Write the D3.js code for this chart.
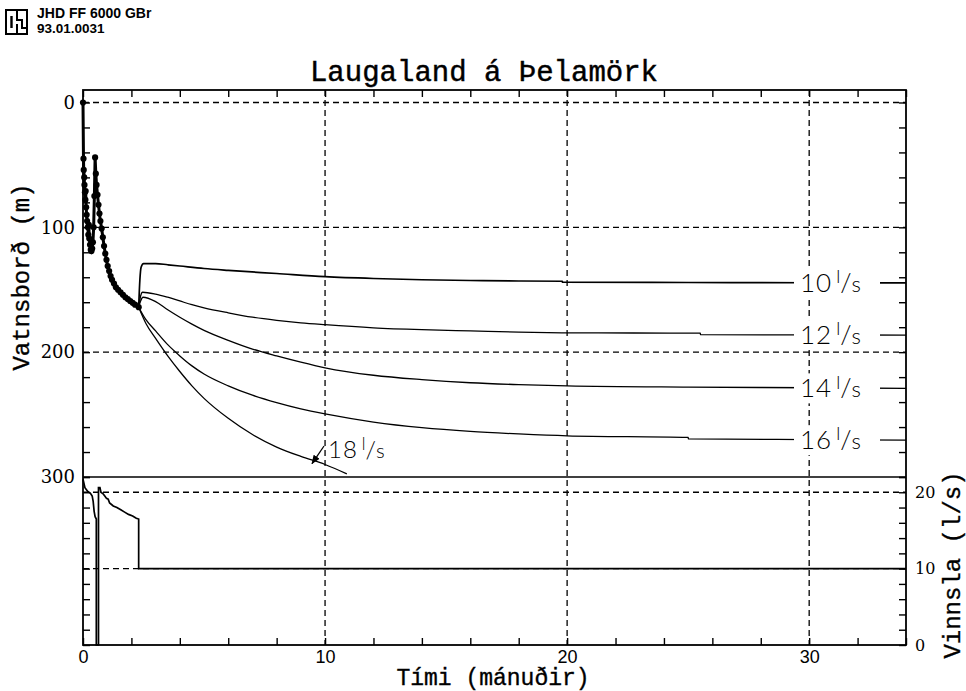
<!DOCTYPE html>
<html>
<head>
<meta charset="utf-8">
<script src="https://cdn.jsdelivr.net/npm/d3@7"></script>
<style>
  body { margin: 0; background: #fff; }
  svg { display: block; }
</style>
</head>
<body>
<svg id="chart" width="966" height="691"></svg>
<script>
// ---- Measured water level in the well, [months, m] ----
const observed = [
  [0, 0], [0.02, 45], [0.03, 54], [0.05, 60], [0.06, 66], [0.08, 72], [0.1, 78], [0.11, 71],
  [0.13, 84], [0.15, 90], [0.17, 95], [0.2, 100], [0.22, 106], [0.24, 98], [0.26, 109],
  [0.29, 114], [0.32, 118], [0.35, 119], [0.38, 117], [0.41, 112], [0.44, 100], [0.47, 75],
  [0.5, 44], [0.53, 57], [0.56, 66], [0.6, 74], [0.64, 82], [0.68, 89], [0.72, 95],
  [0.77, 101], [0.82, 108], [0.87, 115], [0.92, 121], [0.97, 126], [1.02, 131], [1.08, 135],
  [1.14, 139], [1.2, 142], [1.28, 145], [1.36, 148], [1.45, 150], [1.55, 152], [1.65, 154],
  [1.75, 156], [1.85, 157.5], [1.95, 159], [2.05, 160.5], [2.15, 162], [2.3, 164]
];

// ---- Simulated water level for constant pumping rates, [months, m] ----
const sim10 = [
  [2.3, 164], [2.35, 142], [2.4, 132], [2.5, 129], [3, 129], [3.5, 130], [4, 131], [5, 133],
  [6, 134.5], [8, 137], [10, 139.5], [12, 141], [14, 142], [16, 142.6], [18, 143],
  [19.8, 143.2], [19.81, 144], [25, 144.2], [30, 144.4], [34, 144.5]
];
const sim12 = [
  [2.3, 164], [2.38, 155], [2.46, 152], [3, 153.5], [3.5, 156], [4, 159], [4.5, 162],
  [5, 164.5], [6, 168.5], [7, 172], [8, 174.5], [9, 176.5], [10, 178], [12, 180.5],
  [14, 182], [16, 183], [18, 184], [20, 184.5], [25.5, 184.8], [25.51, 186], [30, 186.2],
  [34, 186.3]
];
const sim14 = [
  [2.3, 164], [2.38, 159], [2.48, 156], [3, 159.5], [3.5, 166], [4, 172], [4.5, 177.5],
  [5, 182.5], [6, 190.5], [7, 197.5], [8, 203], [9, 208], [10, 212.5], [12, 218.5], [14, 222],
  [16, 224.5], [18, 226], [20, 227], [25, 228], [30, 228.5], [34, 229]
];
const sim16 = [
  [2.3, 164], [2.6, 174], [3, 183], [3.5, 194], [4, 203], [4.5, 211], [5, 217.5], [6, 227],
  [7, 234.5], [8, 240.5], [9, 245.5], [10, 249.5], [12, 256], [14, 260.5], [16, 263.5],
  [18, 265.5], [20, 267], [25, 268.3], [25.01, 269.5], [30, 270], [34, 270.5]
];
const sim18 = [
  [2.3, 164], [2.6, 177], [3, 189], [3.5, 203], [4, 215.5], [4.5, 227], [5, 237], [6, 253],
  [7, 266], [8, 276], [9, 283.5], [10, 290], [10.9, 297.5]
];
const scenarioRates = ["10", "12", "14", "16"];
const lastScenarioRate = "18";

// ---- Pumping rate, [months, l/s] ----
const pumping = [
  [0, 21.7], [0.08, 20.6], [0.2, 20.1], [0.3, 19.9], [0.38, 19.5], [0.42, 18.8], [0.46, 17.5],
  [0.5, 16.8], [0.55, 16.5], [0.55, 0], [0.64, 0], [0.64, 20.6], [0.7, 20.6], [0.74, 20.0],
  [0.83, 19.8], [0.9, 19.5], [0.97, 19.2], [1.04, 19.1], [1.1, 18.6], [1.25, 18.2],
  [1.4, 18.0], [1.56, 17.7], [1.72, 17.4], [1.88, 17.1], [2.05, 16.9], [2.2, 16.6],
  [2.3, 16.5], [2.3, 10], [34, 10]
];

// ---- Tick and grid values ----
const timeLabels = [0, 10, 20, 30];
const levelLabels = [0, 100, 200, 300];
const rateLabels = [0, 10, 20];
const levelGrid = [0, 100, 200];
const rateGrid = [10, 20];

const svg = d3.select("#chart");

const x = d3.scaleLinear().domain([0, 34]).range([83, 906]);
const yLevel = d3.scaleLinear().domain([-10, 300]).range([90, 477]);
const yRate = d3.scaleLinear().domain([0, 22]).range([645, 477]);

const monoFont = "'Liberation Mono', 'DejaVu Sans Mono', monospace";
const serifFont = "'DejaVu Serif', serif";

// ---- Header ----
const logo = svg.append("g").attr("fill", "none").attr("stroke", "#000");
logo.append("rect").attr("x", 6).attr("y", 10).attr("width", 21).attr("height", 24).attr("stroke-width", 2);
logo.append("path").attr("d", "M11.5 16 V28").attr("stroke-width", 2.4);
logo.append("path").attr("d", "M17 10 V20 H22 V28 H27 M17 24 V34").attr("stroke-width", 2);
svg.append("text").attr("x", 37).attr("y", 18)
  .attr("font-family", "'Liberation Sans', Arial, sans-serif").attr("font-weight", "bold")
  .attr("font-size", 14).text("JHD FF 6000 GBr");
svg.append("text").attr("x", 37).attr("y", 33)
  .attr("font-family", "'Liberation Sans', Arial, sans-serif").attr("font-weight", "bold")
  .attr("font-size", 13.5).text("93.01.0031");

// ---- Title ----
svg.append("text").attr("x", 484).attr("y", 81).attr("text-anchor", "middle")
  .attr("font-family", monoFont).attr("font-size", 29)
  .attr("stroke", "#000").attr("stroke-width", 0.45)
  .text("Laugaland á Þelamörk");

// ---- Grid ----
const grid = svg.append("g").attr("stroke", "#000").attr("stroke-width", 1.3)
  .attr("stroke-dasharray", "6,4");
grid.selectAll(".gl").data(levelGrid).join("line")
  .attr("x1", x(0)).attr("x2", x(34))
  .attr("y1", d => yLevel(d)).attr("y2", d => yLevel(d));
grid.selectAll(".gr").data(rateGrid).join("line")
  .attr("x1", x(0)).attr("x2", x(34))
  .attr("y1", d => yRate(d)).attr("y2", d => yRate(d));
grid.selectAll(".gt").data(timeLabels.filter(d => d > 0)).join("line")
  .attr("x1", d => x(d)).attr("x2", d => x(d))
  .attr("y1", yLevel(-10)).attr("y2", yRate(0));

// ---- Axes ----
function styleAxis(g, fontFamily, fontSize) {
  g.select(".domain").remove();
  g.selectAll(".tick line").attr("stroke", "#000").attr("stroke-width", 1.4);
  g.selectAll(".tick text").attr("font-family", fontFamily).attr("font-size", fontSize).attr("fill", "#000");
}
const evenMonths = d3.range(0, 35, 2);
svg.append("g").attr("transform", `translate(0,${yLevel(-10)})`)
  .call(d3.axisTop(x).tickValues(evenMonths).tickSize(-7).tickFormat(""))
  .call(g => styleAxis(g, serifFont, 17));
svg.append("g").attr("transform", `translate(0,${yRate(0)})`)
  .call(d3.axisBottom(x).tickValues(evenMonths).tickSize(-7).tickPadding(5)
    .tickFormat(d => timeLabels.includes(d) ? d : ""))
  .call(g => styleAxis(g, "'Liberation Sans', Arial, sans-serif", 18));
const levelTicks = d3.range(0, 301, 20);
const rateTicks = d3.range(0, 23, 2);
svg.append("g").attr("transform", `translate(${x(0)},0)`)
  .call(d3.axisLeft(yLevel).tickValues(levelTicks).tickSize(-7).tickPadding(8)
    .tickFormat(d => levelLabels.includes(d) ? d : ""))
  .call(g => styleAxis(g, serifFont, 18));
svg.append("g").attr("transform", `translate(${x(0)},0)`)
  .call(d3.axisLeft(yRate).tickValues(rateTicks).tickSize(-7).tickFormat(""))
  .call(g => styleAxis(g, serifFont, 18));
svg.append("g").attr("transform", `translate(${x(34)},0)`)
  .call(d3.axisRight(yLevel).tickValues(levelTicks).tickSize(-7).tickFormat(""))
  .call(g => styleAxis(g, serifFont, 16));
svg.append("g").attr("transform", `translate(${x(34)},0)`)
  .call(d3.axisRight(yRate).tickValues(rateTicks).tickSize(-7).tickPadding(9)
    .tickFormat(d => rateLabels.includes(d) ? d : ""))
  .call(g => styleAxis(g, serifFont, 16));

// ---- Frame and panel divider ----
svg.append("rect").attr("x", x(0)).attr("y", yLevel(-10))
  .attr("width", x(34) - x(0)).attr("height", yRate(0) - yLevel(-10))
  .attr("fill", "none").attr("stroke", "#000").attr("stroke-width", 1.8);
svg.append("line").attr("x1", x(0)).attr("x2", x(34))
  .attr("y1", yLevel(300)).attr("y2", yLevel(300))
  .attr("stroke", "#000").attr("stroke-width", 1.6);

// ---- Simulated curves ----
const levelLine = d3.line().x(d => x(d[0])).y(d => yLevel(d[1])).curve(d3.curveMonotoneX);
const sims = [sim10, sim12, sim14, sim16, sim18];
svg.append("g").attr("fill", "none").attr("stroke", "#000")
  .selectAll("path").data(sims).join("path")
  .attr("stroke-width", (d, i) => i === 0 ? 1.7 : 1.3)
  .attr("d", levelLine);

// ---- Measured level ----
const obsLine = d3.line().x(d => x(d[0])).y(d => yLevel(d[1]));
svg.append("path").datum(observed).attr("fill", "none").attr("stroke", "#000")
  .attr("stroke-width", 3).attr("d", obsLine);
svg.append("g").selectAll("circle").data(observed).join("circle")
  .attr("cx", d => x(d[0])).attr("cy", d => yLevel(d[1])).attr("r", 3.1).attr("fill", "#000");

// ---- Pumping rate ----
const rateLine = d3.line().x(d => x(d[0])).y(d => yRate(d[1]));
svg.append("path").datum(pumping).attr("fill", "none").attr("stroke", "#000")
  .attr("stroke-width", 1.7).attr("d", rateLine);

// ---- Rate labels at the curve ends ----
const labelFont = "Lato, 'Open Sans', sans-serif";
function rateLabel(g, rate, fs) {
  const t = g.append("text").attr("font-family", labelFont).attr("font-weight", 300)
    .attr("font-size", fs).attr("fill", "#000");
  t.append("tspan").attr("letter-spacing", 1).text(rate);
  t.append("tspan").attr("font-size", fs * 0.7).attr("dx", 4).attr("dy", -fs * 0.34).text("l");
  t.append("tspan").attr("font-size", fs * 1.0).attr("dy", fs * 0.34).text("/");
  t.append("tspan").attr("font-size", fs * 0.85).text("s");
  return t;
}
const endSims = [sim10, sim12, sim14, sim16];
endSims.forEach((s, i) => {
  const yy = yLevel(s[s.length - 1][1]);
  svg.append("rect").attr("x", 794).attr("y", yy - 15).attr("width", 86).attr("height", 30).attr("fill", "#fff");
  const g = svg.append("g").attr("transform", `translate(800,${yy + 9})`);
  rateLabel(g, scenarioRates[i], 26);
});
const g18 = svg.append("g").attr("transform", "translate(328,458)");
rateLabel(g18, lastScenarioRate, 24);
svg.append("defs").append("marker").attr("id", "ah").attr("viewBox", "0 0 10 10")
  .attr("refX", 9).attr("refY", 5).attr("markerWidth", 7).attr("markerHeight", 7)
  .attr("orient", "auto").append("path").attr("d", "M0 1 L10 5 L0 9 Z").attr("fill", "#000");
const arrowPoint = sim18.find(d => d[0] === 10);
svg.append("line").attr("x1", 324).attr("y1", 446)
  .attr("x2", x(10) - 13).attr("y2", yLevel(arrowPoint[1]) - 1)
  .attr("stroke", "#000").attr("stroke-width", 1.3).attr("marker-end", "url(#ah)");

// ---- Axis titles ----
svg.append("text").attr("x", 493).attr("y", 685).attr("text-anchor", "middle")
  .attr("font-family", monoFont).attr("font-size", 23).attr("stroke", "#000").attr("stroke-width", 0.35)
  .text("Tími (mánuðir)");
svg.append("text").attr("transform", "translate(29,277) rotate(-90)").attr("text-anchor", "middle")
  .attr("font-family", monoFont).attr("font-size", 24).attr("stroke", "#000").attr("stroke-width", 0.35)
  .text("Vatnsborð (m)");
svg.append("text").attr("transform", "translate(960,565) rotate(-90)").attr("text-anchor", "middle")
  .attr("font-family", monoFont).attr("font-size", 24).attr("stroke", "#000").attr("stroke-width", 0.35)
  .text("Vinnsla (l/s)");
</script>
</body>
</html>
